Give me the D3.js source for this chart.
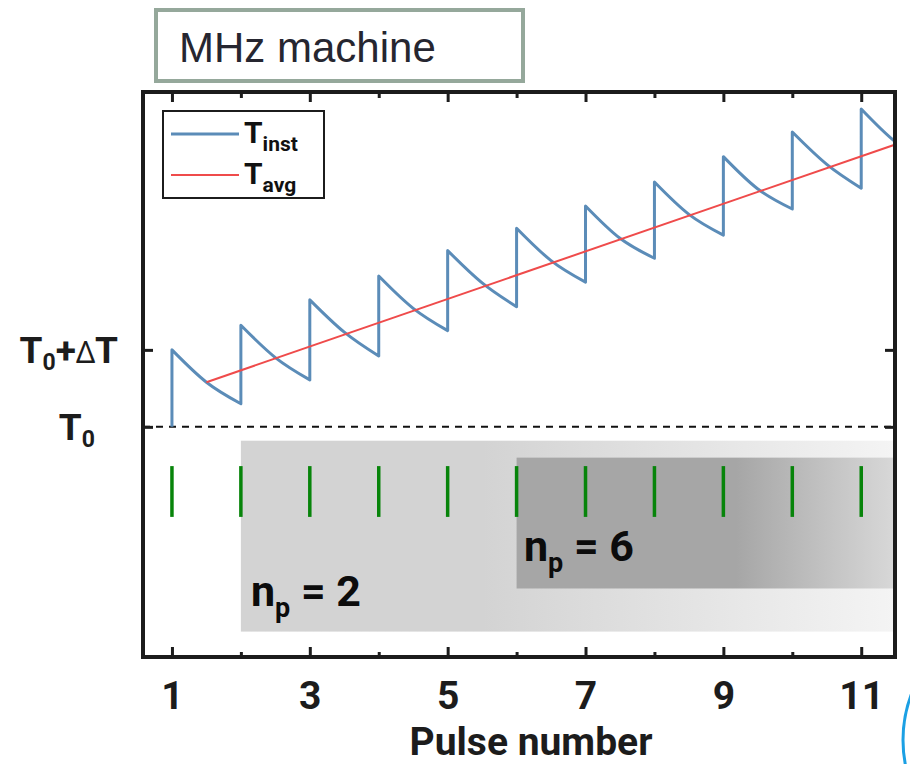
<!DOCTYPE html>
<html>
<head>
<meta charset="utf-8">
<script src="https://cdn.jsdelivr.net/npm/d3@7"></script>
<style>
  body { margin: 0; background: #fff; }
  svg { display: block; }
</style>
</head>
<body>
<svg id="chart" width="910" height="764"></svg>
<script>
// Pulse train: temperature (in units of ΔT above T0) for each laser pulse
const pulses     = [1, 2, 3, 4, 5, 6, 7, 8, 9, 10, 11];
const peakTemp   = [1.00, 1.32, 1.65, 1.96, 2.29, 2.58, 2.87, 3.18, 3.51, 3.83, 4.13];
const midTemp    = [0.58, 0.90, 1.23, 1.54, 1.87, 2.16, 2.45, 2.76, 3.09, 3.41, 3.70];
const troughTemp = [0.30, 0.61, 0.92, 1.25, 1.56, 1.88, 2.19, 2.49, 2.83, 3.10, 3.42];

// Average temperature trend
const avgPulse = [1.5, 11.5];
const avgTemp  = [0.58, 3.67];

// Axis ticks
const xMajorTicks = [1, 3, 5, 7, 9, 11];
const xMinorTicks = [2, 4, 6, 8, 10];
const yTickValues = [0, 1];

// Shaded pulse groups (n_p) in the lower panel
const groupSize   = ["2", "6"];
const groupStart  = [2, 6];
const groupTop    = [-0.18, -0.40];
const groupBottom = [-2.66, -2.10];

// Pulse markers
const markerTop = -0.51, markerBottom = -1.17;

const svg = d3.select("#chart");
const plot = { left: 143, right: 895, top: 92, bottom: 657 };

const x = d3.scaleLinear().domain([0.58, 11.49]).range([plot.left, plot.right]);
const y = d3.scaleLinear().domain([-2.99, 4.35]).range([plot.bottom, plot.top]);

const ink = "#1c1c1c";
const boldFont = "Roboto, 'Liberation Sans', sans-serif";

// ---- title box ----
svg.append("rect")
  .attr("x", 156).attr("y", 10).attr("width", 367).attr("height", 71)
  .attr("fill", "#fff").attr("stroke", "#95a89b").attr("stroke-width", 4);
svg.append("text")
  .attr("x", 179).attr("y", 62)
  .attr("font-family", "'Liberation Sans', Arial, sans-serif")
  .attr("font-size", 42).attr("fill", "#262630")
  .text("MHz machine");

// ---- gradients for the shaded groups ----
const defs = svg.append("defs");
function groupGradient(id, i, solidUntil, c0, c1) {
  const g = defs.append("linearGradient").attr("id", id)
    .attr("gradientUnits", "userSpaceOnUse")
    .attr("x1", x(groupStart[i])).attr("x2", x.range()[1])
    .attr("y1", 0).attr("y2", 0);
  g.append("stop").attr("offset", 0).attr("stop-color", c0);
  g.append("stop").attr("offset", solidUntil).attr("stop-color", c0);
  g.append("stop").attr("offset", 1).attr("stop-color", c1);
}
groupGradient("grad0", 0, 0.37, "#d3d3d3", "#f4f4f4");
groupGradient("grad1", 1, 0.58, "#a6a6a6", "#d8d8d8");

defs.append("clipPath").attr("id", "plotClip")
  .append("rect")
  .attr("x", plot.left).attr("y", plot.top)
  .attr("width", plot.right - plot.left).attr("height", plot.bottom - plot.top);

const body = svg.append("g").attr("clip-path", "url(#plotClip)");

// ---- shaded groups ----
groupSize.forEach((n, i) => {
  body.append("rect")
    .attr("x", x(groupStart[i]))
    .attr("y", y(groupTop[i]))
    .attr("width", x.range()[1] - x(groupStart[i]))
    .attr("height", y(groupBottom[i]) - y(groupTop[i]))
    .attr("fill", `url(#grad${i})`);
});

// ---- pulse markers ----
body.selectAll("line.marker").data(pulses).join("line")
  .attr("class", "marker")
  .attr("x1", d => x(d)).attr("x2", d => x(d))
  .attr("y1", y(markerTop)).attr("y2", y(markerBottom))
  .attr("stroke", "#07840a").attr("stroke-width", 3.5);

// ---- group labels ----
const labelBase = [[251, 606], [524, 561]];
groupSize.forEach((n, i) => {
  const t = svg.append("text")
    .attr("x", labelBase[i][0]).attr("y", labelBase[i][1])
    .attr("font-family", boldFont).attr("font-weight", 700)
    .attr("font-size", 43).attr("fill", "#0c0c0c");
  t.append("tspan").text("n");
  t.append("tspan").attr("font-size", 27).attr("dy", 11).text("p");
  t.append("tspan").attr("dy", -11).text(" = " + n);
});

// ---- T0 baseline ----
body.append("line")
  .attr("x1", plot.left).attr("x2", plot.right)
  .attr("y1", y(0)).attr("y2", y(0))
  .attr("stroke", "#111").attr("stroke-width", 2)
  .attr("stroke-dasharray", "7,6");

// ---- instantaneous temperature ----
const seg = d3.line().x(d => x(d[0])).y(d => y(d[1])).curve(d3.curveMonotoneX);
let instPath = `M${x(pulses[0])},${y(0)}`;
pulses.forEach((p, i) => {
  const s = seg([[p, peakTemp[i]], [p + 0.5, midTemp[i]], [p + 1, troughTemp[i]]]);
  instPath += "L" + s.slice(1);
});
body.append("path")
  .attr("d", instPath)
  .attr("fill", "none").attr("stroke", "#5b8cb8")
  .attr("stroke-width", 3).attr("stroke-linejoin", "round");

// ---- average temperature ----
body.append("path")
  .datum(avgPulse.map((p, i) => [p, avgTemp[i]]))
  .attr("d", d3.line().x(d => x(d[0])).y(d => y(d[1])))
  .attr("fill", "none").attr("stroke", "#ef4b4b").attr("stroke-width", 2);

// ---- axes (ticks point inward) ----
function styleAxis(g) {
  g.select(".domain").remove();
  g.selectAll(".tick line").attr("stroke", ink).attr("stroke-width", 3);
}
svg.append("g").attr("transform", `translate(0,${plot.bottom})`)
  .call(d3.axisBottom(x).tickValues(xMajorTicks).tickSize(-10).tickPadding(24)
    .tickFormat(d3.format("d")))
  .call(styleAxis)
  .call(g => g.selectAll(".tick text")
    .attr("font-family", boldFont).attr("font-weight", 700)
    .attr("font-size", 39).attr("fill", ink)
    .attr("dy", "0.71em"));
svg.append("g").attr("transform", `translate(0,${plot.bottom})`)
  .call(d3.axisBottom(x).tickValues(xMinorTicks).tickSize(-5).tickFormat(""))
  .call(styleAxis);
svg.append("g").attr("transform", `translate(0,${plot.top})`)
  .call(d3.axisTop(x).tickValues(xMajorTicks).tickSize(-10).tickFormat(""))
  .call(styleAxis);
svg.append("g").attr("transform", `translate(0,${plot.top})`)
  .call(d3.axisTop(x).tickValues(xMinorTicks).tickSize(-6).tickFormat(""))
  .call(styleAxis);
svg.append("g").attr("transform", `translate(${plot.left},0)`)
  .call(d3.axisLeft(y).tickValues(yTickValues).tickSize(-10).tickFormat(""))
  .call(styleAxis);
svg.append("g").attr("transform", `translate(${plot.right},0)`)
  .call(d3.axisRight(y).tickValues(yTickValues).tickSize(-10).tickFormat(""))
  .call(styleAxis);

// frame
svg.append("rect")
  .attr("x", plot.left).attr("y", plot.top)
  .attr("width", plot.right - plot.left).attr("height", plot.bottom - plot.top)
  .attr("fill", "none").attr("stroke", ink).attr("stroke-width", 4);

// ---- y tick labels ----
const yLab0 = svg.append("text")
  .attr("x", 95).attr("y", y(yTickValues[0]) + 13)
  .attr("text-anchor", "end")
  .attr("font-family", boldFont).attr("font-weight", 700)
  .attr("font-size", 37).attr("fill", ink);
yLab0.append("tspan").text("T");
yLab0.append("tspan").attr("font-size", 23).attr("dy", 7).text("0");

const yLab1 = svg.append("text")
  .attr("x", 118).attr("y", y(yTickValues[1]) + 13)
  .attr("text-anchor", "end")
  .attr("font-family", boldFont).attr("font-weight", 700)
  .attr("font-size", 37).attr("fill", ink);
yLab1.append("tspan").text("T");
yLab1.append("tspan").attr("font-size", 23).attr("dy", 7).text("0");
yLab1.append("tspan").attr("dy", -7).text("+");
yLab1.append("tspan").attr("font-family", "'Noto Sans', 'DejaVu Sans', sans-serif")
  .attr("font-weight", 400).attr("font-size", 30).text("\u0394");
yLab1.append("tspan").text("T");

// ---- x axis title ----
svg.append("text")
  .attr("x", 531).attr("y", 755)
  .attr("text-anchor", "middle")
  .attr("font-family", boldFont).attr("font-weight", 700)
  .attr("font-size", 39).attr("fill", ink)
  .text("Pulse number");

// ---- legend ----
const legend = svg.append("g");
legend.append("rect")
  .attr("x", 163).attr("y", 111).attr("width", 161).attr("height", 87)
  .attr("fill", "#fff").attr("stroke", ink).attr("stroke-width", 2);
const legendItems = [
  { sub: "inst", color: "#5b8cb8", width: 3, ly: 134 },
  { sub: "avg",  color: "#ef4b4b", width: 2, ly: 175 }
];
legendItems.forEach(it => {
  legend.append("line")
    .attr("x1", 171).attr("x2", 239).attr("y1", it.ly).attr("y2", it.ly)
    .attr("stroke", it.color).attr("stroke-width", it.width);
  const t = legend.append("text")
    .attr("x", 244).attr("y", it.ly + 9)
    .attr("font-family", boldFont).attr("font-weight", 700)
    .attr("font-size", 30).attr("fill", "#111");
  t.append("tspan").text("T");
  t.append("tspan").attr("font-size", 21).attr("dy", 8).text(it.sub);
});

// ---- slide decoration at the lower right ----
svg.append("circle")
  .attr("cx", 1033).attr("cy", 740).attr("r", 130)
  .attr("fill", "none").attr("stroke", "#1ba0e4").attr("stroke-width", 3);
</script>
</body>
</html>
